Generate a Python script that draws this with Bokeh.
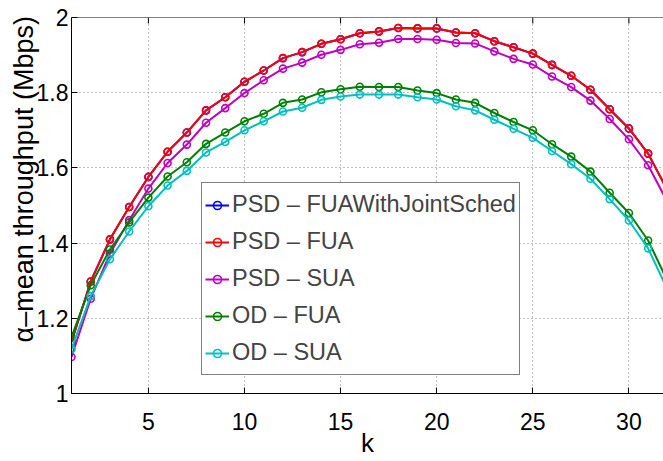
from bokeh.plotting import figure
from bokeh.models import (FixedTicker, Legend, LegendItem, Span,
                          CustomJSTickFormatter, Range1d)
from bokeh.embed import file_html
from bokeh.resources import INLINE

# ---- data ----
k = list(range(1, 33))
psd_fua_joint = [1.137, 1.298, 1.410, 1.496, 1.576, 1.643, 1.694, 1.753, 1.788, 1.829,
                 1.859, 1.892, 1.908, 1.930, 1.942, 1.958, 1.963, 1.972, 1.971, 1.971,
                 1.960, 1.958, 1.937, 1.921, 1.904, 1.874, 1.845, 1.808, 1.756, 1.705,
                 1.638, 1.541]
psd_fua = [1.137, 1.298, 1.410, 1.496, 1.576, 1.643, 1.694, 1.753, 1.788, 1.829,
           1.859, 1.892, 1.908, 1.930, 1.942, 1.958, 1.963, 1.972, 1.971, 1.971,
           1.960, 1.958, 1.937, 1.921, 1.904, 1.874, 1.845, 1.808, 1.756, 1.705,
           1.638, 1.541]
psd_sua = [1.097, 1.252, 1.372, 1.461, 1.545, 1.613, 1.662, 1.720, 1.759, 1.799,
           1.833, 1.864, 1.880, 1.901, 1.914, 1.929, 1.933, 1.943, 1.943, 1.941,
           1.932, 1.931, 1.910, 1.890, 1.875, 1.843, 1.815, 1.779, 1.730, 1.676,
           1.607, 1.510]
od_fua = [1.150, 1.288, 1.383, 1.455, 1.521, 1.577, 1.615, 1.664, 1.694, 1.724,
          1.744, 1.773, 1.782, 1.801, 1.809, 1.816, 1.815, 1.815, 1.806, 1.799,
          1.782, 1.773, 1.746, 1.722, 1.700, 1.663, 1.630, 1.590, 1.534, 1.480,
          1.407, 1.300]
od_sua = [1.118, 1.259, 1.357, 1.431, 1.498, 1.553, 1.592, 1.641, 1.669, 1.700,
          1.724, 1.750, 1.760, 1.781, 1.790, 1.795, 1.795, 1.795, 1.788, 1.782,
          1.764, 1.753, 1.728, 1.704, 1.680, 1.645, 1.610, 1.571, 1.517, 1.460,
          1.386, 1.277]

series_names = ["PSD – FUAWithJointSched", "PSD – FUA", "PSD – SUA", "OD – FUA", "OD – SUA"]
series_values = [psd_fua_joint, psd_fua, psd_sua, od_fua, od_sua]
series_colors = ["#0000FF", "#FF0000", "#BF00BF", "#008000", "#00BFBF"]

x_ticks = [5, 10, 15, 20, 25, 30]
y_ticks = [1.0, 1.2, 1.4, 1.6, 1.8, 2.0]
x_label = "k"
y_label = "α–mean throughput (Mbps)"

FONT = "Liberation Sans"
X_MAX = 31.8
Y_MIN, Y_MAX = 1, 2

p = figure(width=663, height=461, output_backend="svg", toolbar_location=None,
           x_range=Range1d(1, X_MAX), y_range=Range1d(Y_MIN, Y_MAX),
           min_border_left=71, min_border_right=0, min_border_top=17,
           min_border_bottom=68)
p.outline_line_color = None
p.background_fill_color = "white"
p.border_fill_color = "white"

for g in (p.xgrid[0], p.ygrid[0]):
    g.grid_line_color = "#808080"
    g.grid_line_dash = "1 3"
    g.grid_line_width = 1
p.xgrid[0].ticker = FixedTicker(ticks=x_ticks)
p.ygrid[0].ticker = FixedTicker(ticks=y_ticks)

# top box edge with inward ticks (MATLAB "box on")
p.add_layout(Span(location=Y_MAX, dimension="width", line_color="black", line_width=1))
tick_len = 6 * (Y_MAX - Y_MIN) / 376.0
p.segment(x0=x_ticks, x1=x_ticks, y0=[Y_MAX] * len(x_ticks),
          y1=[Y_MAX - tick_len] * len(x_ticks), line_color="black", line_width=1)

items = []
for name, vals, col in zip(series_names, series_values, series_colors):
    r1 = p.line(k, vals, line_color=col, line_width=2)
    r2 = p.scatter(k, vals, marker="circle", size=7, line_color=col, line_width=1.6,
                   fill_color=None)
    items.append(LegendItem(label=name, renderers=[r1, r2]))

fmt = CustomJSTickFormatter(code="return (Math.round(tick*10)/10).toString();")

xa = p.xaxis[0]
xa.ticker = FixedTicker(ticks=x_ticks)
ya = p.yaxis[0]
ya.ticker = FixedTicker(ticks=y_ticks)
ya.formatter = fmt
for ax in (xa, ya):
    ax.axis_line_color = "black"
    ax.axis_line_width = 1
    ax.major_tick_in = 6
    ax.major_tick_out = 0
    ax.major_tick_line_color = "black"
    ax.minor_tick_line_color = None
    ax.major_label_text_font = FONT
    ax.major_label_text_font_size = "23px"
    ax.major_label_text_color = "black"
    ax.axis_label_text_font = FONT
    ax.axis_label_text_font_style = "normal"
    ax.axis_label_text_color = "black"
xa.axis_label_text_font_size = "26px"
ya.axis_label_text_font_size = "27px"
xa.major_label_standoff = 19
ya.major_label_standoff = 3
xa.axis_label = x_label
xa.axis_label_standoff = -5
# non-breaking spaces shift the visible label upward, as in the reference
ya.axis_label = "\u00a0" * 7 + y_label
ya.axis_label_standoff = -5

legend = Legend(items=items, location=(130, 18))
legend.border_line_color = "black"
legend.border_line_width = 1
legend.background_fill_color = "white"
legend.background_fill_alpha = 1
legend.label_text_font = FONT
legend.label_text_font_size = "23.5px"
legend.label_height = 37
legend.glyph_height = 20
legend.glyph_width = 24
legend.label_standoff = 3
legend.spacing = 0
legend.padding = 3
legend.margin = 0
p.add_layout(legend, "center")

open("out.html", "w").write(file_html(p, INLINE))
